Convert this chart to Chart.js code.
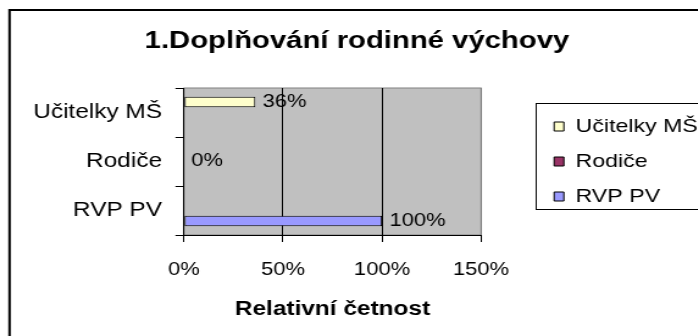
<!DOCTYPE html>
<html>
<head>
<meta charset="utf-8">
<script src="https://cdn.jsdelivr.net/npm/chart.js@4.4.0/dist/chart.umd.min.js"></script>
<style>
  html, body { margin: 0; padding: 0; background: #fff; overflow: hidden; }
  #wrap { width: 582px; height: 336px; transform: scaleX(1.22); transform-origin: 0 0; }
</style>
</head>
<body>
<div id="wrap"><canvas id="grafVychova" width="582" height="336"></canvas></div>
<script>
// Data grafu
const kategorie = ["Učitelky MŠ", "Rodiče", "RVP PV"];
const ucitelkyMS = [0.36, null, null];
const rodice = [null, 0, null];
const rvpPV = [null, null, 1.0];
const osaX = [0, 0.5, 1, 1.5];

const pismo = "'Liberation Sans', Arial, sans-serif";
Chart.defaults.font.family = pismo;
Chart.defaults.color = "#000";

function procenta(v) {
  return Math.round(v * 100) + "%";
}

// gray plot area + outer frame
const pozadi = {
  id: "pozadi",
  beforeDraw(chart) {
    const { ctx, chartArea: a } = chart;
    ctx.save();
    ctx.fillStyle = "#fff";
    ctx.fillRect(0, 0, chart.width, chart.height);
    ctx.fillStyle = "#c0c0c0";
    ctx.fillRect(a.left, a.top, a.right - a.left, a.bottom - a.top);
    ctx.strokeStyle = "#808080";
    ctx.lineWidth = 1;
    ctx.strokeRect(a.left, a.top, a.right - a.left, a.bottom - a.top);
    ctx.strokeStyle = "#000";
    ctx.lineWidth = 2;
    ctx.strokeRect(7.8, 10, chart.width + 20, chart.height + 20);
    ctx.restore();
  },
  afterDraw(chart) {
    // frame around the legend
    const lg = chart.legend;
    if (!lg || !lg.legendHitBoxes.length) return;
    const boxes = lg.legendHitBoxes;
    const top = boxes[0].top - 14;
    const left = lg.left + 0.5;
    const last = boxes[boxes.length - 1];
    const bottom = last.top + last.height + 2.5;
    const ctx = chart.ctx;
    ctx.save();
    ctx.strokeStyle = "#000";
    ctx.lineWidth = 1;
    ctx.strokeRect(Math.round(left) + 0.5, Math.round(top) + 0.5, chart.width, Math.round(bottom - top));
    ctx.restore();
  }
};

// value labels next to the bars
const popisky = {
  id: "popisky",
  afterDatasetsDraw(chart) {
    const ctx = chart.ctx;
    ctx.save();
    ctx.font = "18px " + pismo;
    ctx.fillStyle = "#000";
    ctx.textAlign = "left";
    ctx.textBaseline = "middle";
    chart.data.datasets.forEach((ds, i) => {
      chart.getDatasetMeta(i).data.forEach((el, j) => {
        const v = ds.data[j];
        if (v === null) return;
        ctx.fillText(procenta(v), el.x + 6, el.y);
      });
    });
    ctx.restore();
  }
};

const ctx = document.getElementById("grafVychova").getContext("2d");
const graf = new Chart(ctx, {
  type: "bar",
  data: {
    labels: kategorie,
    datasets: [
      { label: "Učitelky MŠ", data: ucitelkyMS, backgroundColor: "#ffffcc" },
      { label: "Rodiče", data: rodice, backgroundColor: "#993366" },
      { label: "RVP PV", data: rvpPV, backgroundColor: "#9999ff" },
    ],
  },
  options: {
    indexAxis: "y",
    responsive: false,
    maintainAspectRatio: false,
    animation: false,
    categoryPercentage: 0.643,
    barPercentage: 1,
    borderColor: "#000",
    borderWidth: 1,
    borderSkipped: false,
    layout: { padding: { left: 3.2, right: 0, top: 0, bottom: 0 } },
    scales: {
      x: {
        min: osaX[0],
        max: osaX[osaX.length - 1],
        ticks: {
          stepSize: osaX[1] - osaX[0],
          padding: 17,
          font: { size: 18 },
          callback: (v) => procenta(v),
        },
        grid: {
          color: (c) => (c.tick && c.tick.value === osaX[osaX.length - 1] ? "#808080" : "#000"),
          tickColor: "#000",
          tickLength: 7,
        },
        border: { color: "#000", width: 1 },
        title: {
          display: true,
          text: "Relativní četnost",
          font: { size: 20, weight: "bold" },
          padding: { top: 0, bottom: 15 },
        },
        afterFit: (s) => { s.height = 101; },
      },
      y: {
        ticks: { padding: 11, font: { size: 20 } },
        grid: { drawOnChartArea: false, tickColor: "#000", tickLength: 7 },
        border: { color: "#000", width: 1 },
        afterFit: (s) => { s.width = 147.6; },
      },
      // empty space between the plot and the legend
      mezera: {
        type: "linear",
        position: "right",
        grid: { display: false },
        ticks: { display: false },
        border: { display: false },
        afterFit: (s) => { s.width = 43.9; },
      },
    },
    plugins: {
      title: {
        display: true,
        text: "1.Doplňování rodinné výchovy",
        font: { size: 24, weight: "bold" },
        color: "#000",
        padding: { top: 27.4, bottom: 31.8 },
      },
      legend: {
        position: "right",
        align: "center",
        fullSize: false,
        maxWidth: 200,
        labels: {
          boxWidth: 8,
          boxHeight: 9,
          padding: 16,
          font: { size: 19 },
        },
      },
      tooltip: { enabled: false },
    },
  },
  plugins: [pozadi, popisky],
});
</script>
</body>
</html>
